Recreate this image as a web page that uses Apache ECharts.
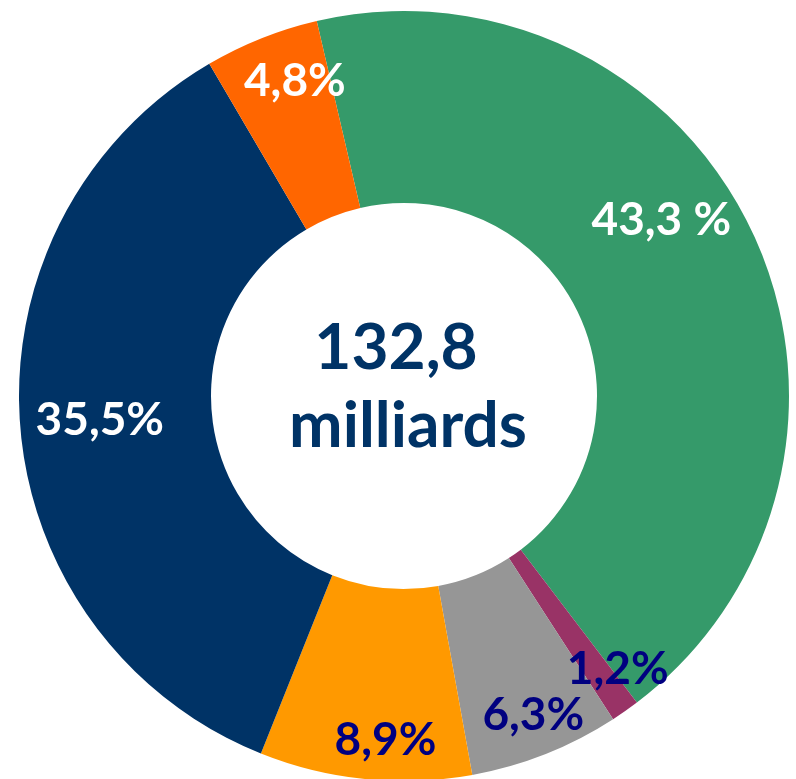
<!DOCTYPE html>
<html>
<head>
<meta charset="utf-8">
<script src="https://cdn.jsdelivr.net/npm/echarts@6/dist/echarts.min.js"></script>
<style>
  html, body { margin: 0; padding: 0; background: #fff; }
  #chart { width: 796px; height: 779px; }
</style>
</head>
<body>
<div id="chart"></div>
<script>
    // parts of the 132,8 milliards total, clockwise from the top
    const names = ["vert", "violet", "gris", "jaune", "bleu", "orange"];
    const values = [43.3, 1.2, 6.3, 8.9, 35.5, 4.8];
    const labels = ["43,3 %", "1,2%", "6,3%", "8,9%", "35,5%", "4,8%"];
    const colors = ["#359a6a", "#993366", "#969696", "#ff9900", "#003366", "#ff6600"];
    const labelColors = ["#fff", "#000080", "#000080", "#000080", "#fff", "#fff"];
    const totalText = ["132,8", "milliards"];

    // label shifts from the middle of each ring slice
    const shifts = [[-7, -52], [46, 34], [22, 48], [11, 54], [-13, 2], [-1, -44]];

    const chart = echarts.init(document.getElementById("chart"));
    const font = "Lato, 'DejaVu Sans', sans-serif";

    const option = {
        backgroundColor: "#fff",
        animation: false,
        graphic: [
            {
                type: "text",
                x: 396,
                y: 348,
                style: {
                    text: totalText[0],
                    fill: "#003366",
                    font: "bold 64px " + font,
                    textAlign: "center",
                    textVerticalAlign: "middle",
                },
            },
            {
                type: "text",
                x: 408,
                y: 426,
                style: {
                    text: totalText[1],
                    fill: "#003366",
                    font: "bold 64px " + font,
                    textAlign: "center",
                    textVerticalAlign: "middle",
                },
            },
        ],
        series: [
            {
                type: "pie",
                center: [404, 396],
                radius: [193, 385],
                startAngle: 103.1,
                clockwise: true,
                avoidLabelOverlap: false,
                label: {
                    show: true,
                    position: "inside",
                    fontFamily: font,
                    fontWeight: "bold",
                    fontSize: 46,
                },
                labelLine: { show: false },
                labelLayout: function (params) {
                    const s = shifts[params.dataIndex];
                    return { dx: s[0], dy: s[1] };
                },
                data: values.map((v, i) => ({
                    name: names[i],
                    value: v,
                    itemStyle: { color: colors[i] },
                    label: {
                        formatter: labels[i],
                        color: labelColors[i],
                    },
                })),
            },
        ],
    };
    chart.setOption(option);
</script>
</body>
</html>
